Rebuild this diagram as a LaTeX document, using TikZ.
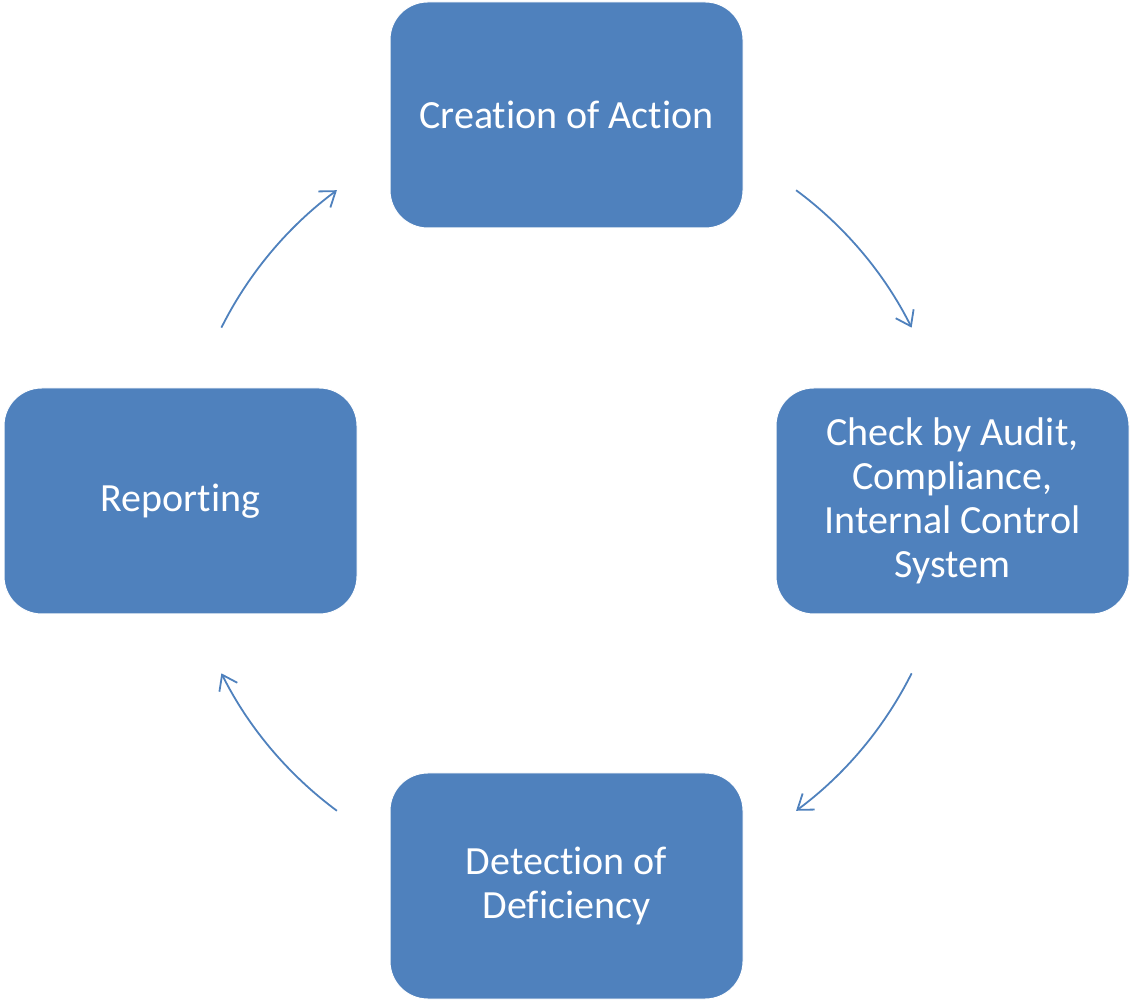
\documentclass[tikz,border=0pt]{standalone}
\usepackage{fontspec}
\setmainfont[Ligatures=NoCommon]{Carlito}
\usetikzlibrary{arrows.meta,calc}
\definecolor{boxblue}{HTML}{4F81BD}
\tikzset{
  stepbox/.style={rectangle, rounded corners=37.7pt, fill=boxblue, draw=white, line width=1pt,
    minimum width=353pt, minimum height=226pt, text=white, align=center,
    font=\fontsize{40pt}{44pt}\selectfont, inner sep=0pt},
  cyc/.style={draw=boxblue, line width=1.8pt, -{Straight Barb[length=14pt,width=20pt,line width=1.8pt]}}
}
\begin{document}
\begin{tikzpicture}[x=1pt,y=1pt]
\useasboundingbox (0,0) rectangle (1131,1001);
\node[stepbox] (create) at (566.5,886) {Creation of Action};
\node[stepbox] (check) at (952.5,500) {Check by Audit,\\Compliance,\\Internal Control\\System};
\node[stepbox] (detect) at (566.5,115) {Detection of\\Deficiency};
\node[stepbox] (report) at (180.5,500) {Reporting};
\coordinate (c) at (566.5,500.5);
\coordinate (s1) at ($(c)+(53.5:386)$);
\coordinate (s2) at ($(c)+(-26.6:386)$);
\coordinate (s3) at ($(c)+(-126.5:386)$);
\coordinate (s4) at ($(c)+(153.4:386)$);
\draw[cyc] (s1) arc[start angle=53.5, end angle=26.6, radius=386];
\draw[cyc] (s2) arc[start angle=-26.6, end angle=-53.5, radius=386];
\draw[cyc] (s3) arc[start angle=-126.5, end angle=-153.4, radius=386];
\draw[cyc] (s4) arc[start angle=153.4, end angle=126.5, radius=386];
\end{tikzpicture}
\end{document}
